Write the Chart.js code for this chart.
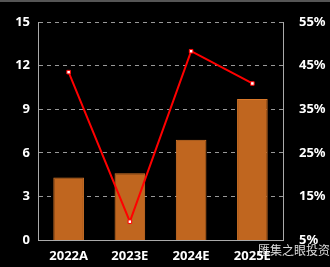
<!DOCTYPE html>
<html>
<head>
<meta charset="utf-8">
<script src="https://cdn.jsdelivr.net/npm/chart.js@4"></script>
<style>
  html, body { margin: 0; padding: 0; background: #000; }
  .wrap { width: 330px; height: 267px; }
</style>
</head>
<body>
<div class="wrap"><canvas class="myChart"></canvas></div>
<script>
const categories = ['2022A', '2023E', '2024E', '2025E'];
const barValues = [4.3, 4.6, 6.9, 9.7];
const lineValues = [43.5, 9.2, 48.3, 40.9];
const leftTicks = [0, 3, 6, 9, 12, 15];
const rightTicks = [5, 15, 25, 35, 45, 55];

const tickFont = { family: 'Noto Sans', size: 13, weight: 'bold' };

const backdrop = {
  id: 'backdrop',
  beforeDraw (chart) {
    const c = chart.ctx;
    c.save();
    c.fillStyle = '#000';
    c.fillRect(0, 0, chart.width, chart.height);
    c.strokeStyle = '#555';
    c.lineWidth = 2;
    c.beginPath();
    c.moveTo(0, 1);
    c.lineTo(chart.width, 1);
    c.stroke();
    c.restore();
  },
  afterDraw (chart) {
    const c = chart.ctx;
    c.save();
    c.font = '12px "Noto Sans CJK SC"';
    c.fillStyle = 'rgba(255,255,255,0.85)';
    c.textBaseline = 'middle';
    c.fillText('匯集之眼投资', 258, 250);
    c.restore();
  }
};

new Chart(document.querySelector('.myChart'), {
  data: {
    labels: categories,
    datasets: [
      {
        type: 'line',
        data: lineValues,
        yAxisID: 'y1',
        borderColor: '#ff0000',
        borderWidth: 2,
        pointStyle: 'rect',
        pointRadius: 2.5,
        pointBackgroundColor: '#ffffff',
        pointBorderColor: '#ff0000',
        pointBorderWidth: 1,
        order: 0
      },
      {
        type: 'bar',
        data: barValues,
        yAxisID: 'y',
        backgroundColor: '#c0661f',
        borderColor: '#d8782a',
        borderWidth: 1,
        barPercentage: 0.5,
        categoryPercentage: 1,
        order: 1
      }
    ]
  },
  options: {
    responsive: true,
    maintainAspectRatio: false,
    animation: false,
    layout: { padding: { top: 22, left: 0, right: 0, bottom: 0 } },
    plugins: { legend: { display: false }, tooltip: { enabled: false } },
    scales: {
      x: {
        grid: { display: false },
        border: { color: '#aaa', width: 1 },
        ticks: { color: '#fff', font: tickFont, padding: 0 },
        afterFit (scale) { scale.height = 27; }
      },
      y: {
        position: 'left',
        min: 0,
        max: 15,
        afterBuildTicks (scale) { scale.ticks = leftTicks.map(v => ({ value: v })); },
        grid: { color: '#999', drawTicks: false, lineWidth: ctx => ctx.tick.value === 0 ? 0 : 1 },
        border: { color: '#aaa', width: 1, dash: [4, 4] },
        ticks: { color: '#fff', font: tickFont, padding: 8 },
        afterFit (scale) { scale.width = 38; }
      },
      y1: {
        position: 'right',
        min: 5,
        max: 55,
        afterBuildTicks (scale) { scale.ticks = rightTicks.map(v => ({ value: v })); },
        grid: { display: false },
        border: { color: '#aaa', width: 1 },
        ticks: { color: '#fff', font: tickFont, padding: 8, callback: v => v + '%' },
        afterFit (scale) { scale.width = 47; }
      }
    }
  },
  plugins: [backdrop]
});
</script>
</body>
</html>
